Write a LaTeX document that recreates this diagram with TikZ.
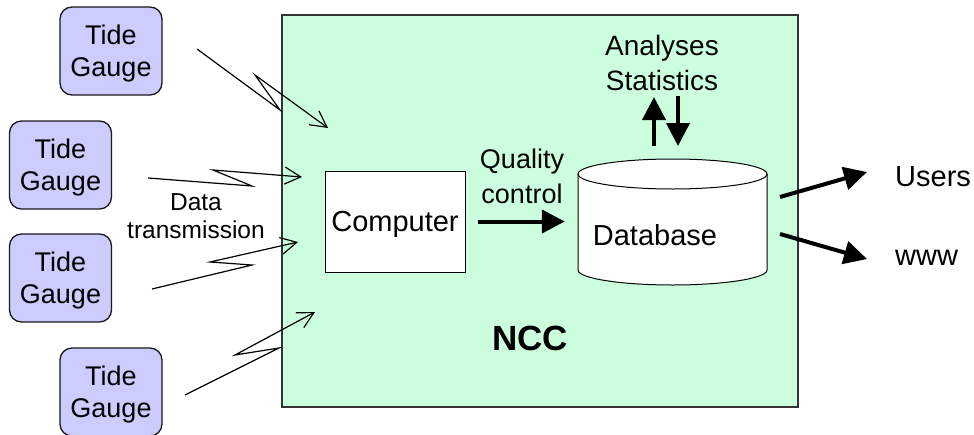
\documentclass[tikz,border=0pt]{standalone}
\usepackage{fontspec}
\setmainfont{Liberation Sans}
\usetikzlibrary{arrows.meta}
\definecolor{nccgreen}{RGB}{204,255,221}
\definecolor{gaugeblue}{RGB}{204,204,255}
\begin{document}
\begin{tikzpicture}[x=1pt,y=-1pt,
  nccbox/.style={draw=black!80, line width=1.1pt, fill=nccgreen, minimum width=516pt, minimum height=392pt, inner sep=0pt},
  gauge/.style={draw=black!90, line width=1.3pt, rounded corners=12pt, fill=gaugeblue, minimum width=102pt, minimum height=88pt, inner sep=0pt},
  gtext/.style={inner sep=0pt, align=center, font=\fontsize{27}{32}\selectfont},
  compbox/.style={draw=black, line width=1pt, fill=white, minimum width=140pt, minimum height=101pt, inner sep=0pt, text height=20pt, text depth=0pt, font=\fontsize{29}{32}\selectfont},
  lbl/.style={inner sep=0pt, align=center, font=\fontsize{28}{35}\selectfont},
  big/.style={inner sep=0pt, font=\fontsize{29}{32}\selectfont},
  small/.style={inner sep=0pt, align=center, font=\fontsize{24.5}{27.5}\selectfont},
  bigarrow/.style={line width=4pt, -{Triangle[length=23pt,width=23pt]}},
  bolt/.style={line width=1.2pt, -{Straight Barb[length=16pt,width=17pt]}}
]
\useasboundingbox (0,0) rectangle (974,434);

% NCC box
\node[nccbox] (ncc) at (540,211) {};
\node[inner sep=0pt, font=\fontsize{35}{40}\selectfont\bfseries] (ncclbl) at (530,338) {NCC};

% tide gauges
\node[gauge] (g1) at (111,51) {};
\node[gauge] (g2) at (60.5,165) {};
\node[gauge] (g3) at (60.5,278) {};
\node[gauge] (g4) at (111,392) {};
\node[gtext] (g1t) at ([yshift=-3pt]g1.center) {Tide\\Gauge};
\node[gtext] (g2t) at ([yshift=-3pt]g2.center) {Tide\\Gauge};
\node[gtext] (g3t) at ([yshift=-3pt]g3.center) {Tide\\Gauge};
\node[gtext] (g4t) at ([yshift=-3pt]g4.center) {Tide\\Gauge};

% computer
\node[compbox] (comp) at (395,221.5) {Computer};

% database cylinder
\node[minimum width=189pt, minimum height=126pt, inner sep=0pt] (dbbody) at (672.5,222) {};
\filldraw[fill=white, draw=black, line width=1pt]
  (578,174) -- (578,270) arc[start angle=180,end angle=360,x radius=94.5pt,y radius=15pt]
  -- (767,174) arc[start angle=0,end angle=180,x radius=94.5pt,y radius=15pt] -- cycle;
\draw[line width=1pt] (578,174) arc[start angle=180,end angle=360,x radius=94.5pt,y radius=15pt];
\node[big, text height=20.5pt, text depth=0pt] (db) at (655,235) {Database};

% labels
\node[lbl, font=\fontsize{27}{35}\selectfont] (qc) at (522,176) {Quality\\control};
\node[lbl] (an) at (662,63) {Analyses\\Statistics};
\node[big, anchor=west] (users) at (895,176.5) {Users};
\node[big, anchor=west] (www) at (895,257.5) {www};
\node[small] (dt) at (196,216) {Data\\transmission};

% thick arrows
\draw[bigarrow, shorten <=12pt, shorten >=13pt] (comp.east) -- (comp.east -| dbbody.west);
\coordinate (upS) at (654,146); \coordinate (upE) at (654,97);
\coordinate (dnS) at (678,96);  \coordinate (dnE) at (678,146);
\draw[bigarrow] (upS) -- (upE);
\draw[bigarrow] (dnS) -- (dnE);
\coordinate (uS) at (780,197); \coordinate (uE) at (867,172);
\coordinate (wS) at (780,234); \coordinate (wE) at (867,259);
\draw[bigarrow] (uS) -- (uE);
\draw[bigarrow] (wS) -- (wE);

% lightning (data transmission) arrows
\coordinate (s1) at (197,49);  \coordinate (t1) at (328,128);
\coordinate (s2) at (148,178); \coordinate (t2) at (302,177);
\coordinate (s3) at (152,289); \coordinate (t3) at (298,242);
\coordinate (s4) at (185,395); \coordinate (t4) at (315,312);
\draw[bolt] (s1) -- (280,110) -- (255,75) -- (t1);
\draw[bolt] (s2) -- (252,186) -- (213,170) -- (t2);
\draw[bolt] (s3) -- (252,265) -- (210,262) -- (t3);
\draw[bolt] (s4) -- (279,348) -- (235,355) -- (t4);
\end{tikzpicture}
\end{document}
